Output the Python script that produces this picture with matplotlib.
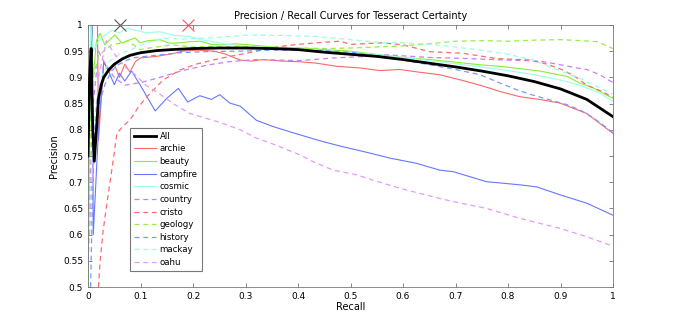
import matplotlib
matplotlib.use("Agg")
import matplotlib.pyplot as plt
import numpy as np

plt.rcParams.update({'font.size': 7, 'font.family': 'DejaVu Sans'})

# ---- data (recall, precision) ----
all_r = [0, 0.003, 0.006, 0.009, 0.012, 0.016, 0.02, 0.025, 0.03, 0.04, 0.05, 0.065, 0.08, 0.1, 0.13,
         0.16, 0.2, 0.25, 0.3, 0.35, 0.4, 0.45, 0.5, 0.55, 0.6, 0.65, 0.7, 0.75, 0.8, 0.85, 0.9, 0.95, 1.0]
all_p = [0.75, 0.9, 0.955, 0.8, 0.74, 0.8, 0.86, 0.885, 0.9, 0.915, 0.925, 0.935, 0.942, 0.947, 0.951,
         0.953, 0.955, 0.956, 0.956, 0.955, 0.953, 0.948, 0.944, 0.94, 0.934, 0.927, 0.92, 0.912, 0.903,
         0.892, 0.878, 0.858, 0.825]

archie_r = [0, 0.018, 0.02, 0.03, 0.04, 0.05, 0.06, 0.07, 0.08, 0.09, 0.1, 0.13, 0.16, 0.18, 0.21, 0.24,
            0.26, 0.29, 0.31, 0.333, 0.37, 0.4, 0.436, 0.474, 0.518, 0.556, 0.594, 0.63, 0.67, 0.71,
            0.747, 0.785, 0.823, 0.86, 0.899, 0.95, 1.0]
archie_p = [1.0, 1.0, 0.78, 0.93, 0.91, 0.925, 0.9, 0.925, 0.91, 0.93, 0.937, 0.94, 0.945, 0.95, 0.952,
            0.95, 0.945, 0.933, 0.931, 0.934, 0.931, 0.93, 0.927, 0.921, 0.918, 0.913, 0.915, 0.91,
            0.905, 0.895, 0.885, 0.873, 0.863, 0.858, 0.851, 0.831, 0.793]

beauty_r = [0, 0.005, 0.01, 0.016, 0.023, 0.032, 0.04, 0.051, 0.065, 0.08, 0.09, 0.099, 0.115, 0.137,
            0.155, 0.175, 0.195, 0.213, 0.235, 0.257, 0.28, 0.309, 0.35, 0.404, 0.45, 0.499, 0.556,
            0.6, 0.65, 0.7, 0.747, 0.785, 0.82, 0.861, 0.912, 0.937, 0.962, 1.0]
beauty_p = [0.5, 1.0, 0.9, 0.97, 0.984, 0.962, 0.97, 0.981, 0.965, 0.972, 0.975, 0.966, 0.97, 0.972,
            0.965, 0.966, 0.968, 0.969, 0.963, 0.962, 0.964, 0.962, 0.958, 0.956, 0.953, 0.95, 0.943,
            0.938, 0.934, 0.929, 0.924, 0.921, 0.917, 0.912, 0.902, 0.889, 0.88, 0.86]

campfire_r = [0.0, 0.008, 0.01, 0.02, 0.03, 0.04, 0.05, 0.06, 0.07, 0.083, 0.099, 0.128, 0.15, 0.172,
              0.19, 0.213, 0.235, 0.251, 0.27, 0.29, 0.321, 0.353, 0.385, 0.442, 0.48, 0.531, 0.575,
              0.626, 0.67, 0.696, 0.759, 0.823, 0.855, 0.899, 0.95, 1.0]
campfire_p = [1.0, 1.0, 0.6, 0.8, 0.93, 0.91, 0.886, 0.908, 0.893, 0.912, 0.886, 0.836, 0.86, 0.879,
              0.853, 0.865, 0.858, 0.867, 0.851, 0.845, 0.818, 0.806, 0.796, 0.779, 0.769, 0.757, 0.746,
              0.736, 0.723, 0.72, 0.701, 0.695, 0.691, 0.676, 0.66, 0.637]

cosmic_r = [0, 0.005, 0.01, 0.02, 0.029, 0.045, 0.06, 0.074, 0.09, 0.11, 0.137, 0.165, 0.194, 0.215,
            0.238, 0.26, 0.29, 0.328, 0.37, 0.41, 0.46, 0.5, 0.556, 0.6, 0.65, 0.7, 0.747, 0.8, 0.85,
            0.9, 0.937, 0.97, 1.0]
cosmic_p = [0.55, 1.0, 0.95, 0.97, 0.978, 0.99, 0.985, 0.994, 0.99, 0.985, 0.987, 0.98, 0.978, 0.972,
            0.968, 0.964, 0.96, 0.956, 0.955, 0.953, 0.95, 0.948, 0.943, 0.938, 0.932, 0.926, 0.92,
            0.913, 0.905, 0.895, 0.885, 0.872, 0.855]

country_r = [0, 0.01, 0.02, 0.03, 0.05, 0.07, 0.1, 0.137, 0.18, 0.23, 0.27, 0.321, 0.404, 0.467, 0.531,
             0.569, 0.65, 0.72, 0.797, 0.861, 0.9, 0.937, 0.95, 0.975, 1.0]
country_p = [0.6, 0.85, 0.95, 0.93, 0.9, 0.885, 0.89, 0.9, 0.913, 0.924, 0.93, 0.934, 0.932, 0.937, 0.94,
             0.943, 0.938, 0.936, 0.933, 0.931, 0.924, 0.917, 0.915, 0.905, 0.89]

cristo_r = [0.02, 0.023, 0.029, 0.036, 0.048, 0.055, 0.065, 0.08, 0.095, 0.112, 0.143, 0.175, 0.205,
            0.238, 0.27, 0.302, 0.335, 0.366, 0.4, 0.436, 0.48, 0.5, 0.52, 0.562, 0.6, 0.651, 0.714,
            0.778, 0.842, 0.875, 0.905, 0.93, 0.95, 0.975, 1.0]
cristo_p = [0.5, 0.55, 0.609, 0.66, 0.742, 0.793, 0.805, 0.819, 0.842, 0.863, 0.895, 0.914, 0.925,
            0.933, 0.94, 0.946, 0.953, 0.959, 0.963, 0.966, 0.969, 0.963, 0.964, 0.966, 0.962, 0.949,
            0.946, 0.936, 0.933, 0.925, 0.914, 0.9, 0.885, 0.875, 0.862]

geology_r = [0, 0.005, 0.01, 0.02, 0.03, 0.045, 0.06, 0.076, 0.099, 0.13, 0.162, 0.2, 0.226, 0.26,
             0.29, 0.33, 0.4, 0.45, 0.5, 0.55, 0.6, 0.65, 0.7, 0.75, 0.8, 0.85, 0.9, 0.94, 0.97, 1.0]
geology_p = [0.5, 0.85, 0.9, 0.943, 0.95, 0.962, 0.965, 0.97, 0.953, 0.958, 0.962, 0.958, 0.959, 0.958,
             0.959, 0.957, 0.956, 0.955, 0.956, 0.958, 0.96, 0.964, 0.969, 0.97, 0.969, 0.971, 0.972,
             0.97, 0.968, 0.955]

history_r = [0.005, 0.008, 0.01, 0.013, 0.018, 0.023, 0.032, 0.045, 0.057, 0.083, 0.11, 0.137, 0.175,
             0.22, 0.29, 0.35, 0.4, 0.45, 0.5, 0.556, 0.6, 0.651, 0.7, 0.747, 0.785, 0.82, 0.848,
             0.88, 0.912, 0.937, 0.962, 0.98, 1.0]
history_p = [0.5, 0.65, 0.72, 0.803, 0.83, 0.854, 0.886, 0.912, 0.924, 0.937, 0.94, 0.943, 0.947,
             0.949, 0.95, 0.952, 0.952, 0.951, 0.948, 0.94, 0.933, 0.924, 0.915, 0.905, 0.889, 0.875,
             0.866, 0.857, 0.848, 0.838, 0.823, 0.81, 0.794]

mackay_r = [0.003, 0.008, 0.015, 0.025, 0.04, 0.06, 0.08, 0.11, 0.143, 0.18, 0.226, 0.27, 0.309, 0.37,
            0.436, 0.5, 0.562, 0.6, 0.651, 0.7, 0.747, 0.8, 0.848, 0.88, 0.912, 0.94, 0.962, 0.98, 1.0]
mackay_p = [0.6, 0.75, 0.85, 0.9, 0.93, 0.945, 0.952, 0.965, 0.975, 0.973, 0.975, 0.978, 0.981, 0.98,
            0.978, 0.972, 0.966, 0.966, 0.963, 0.958, 0.952, 0.944, 0.933, 0.92, 0.908, 0.897, 0.886,
            0.878, 0.868]

oahu_r = [0.0, 0.01, 0.02, 0.035, 0.05, 0.07, 0.09, 0.11, 0.137, 0.162, 0.194, 0.225, 0.257, 0.29,
          0.321, 0.36, 0.404, 0.429, 0.467, 0.512, 0.562, 0.607, 0.67, 0.696, 0.759, 0.823, 0.899,
          0.95, 1.0]
oahu_p = [0.55, 0.75, 0.9, 0.97, 0.945, 0.92, 0.905, 0.885, 0.868, 0.85, 0.831, 0.822, 0.812, 0.8,
          0.784, 0.77, 0.752, 0.739, 0.723, 0.714, 0.698, 0.685, 0.669, 0.663, 0.65, 0.631, 0.612,
          0.596, 0.578]

# best-threshold markers
mark_r = [0.06, 0.19]
mark_p = [1.0, 1.0]

series = [
    ('archie', archie_r, archie_p, '#ff6666', '-'),
    ('beauty', beauty_r, beauty_p, '#88ee33', '-'),
    ('campfire', campfire_r, campfire_p, '#6677ff', '-'),
    ('cosmic', cosmic_r, cosmic_p, '#99ffe6', '-'),
    ('country', country_r, country_p, '#c77dff', '--'),
    ('cristo', cristo_r, cristo_p, '#ff6b6b', '--'),
    ('geology', geology_r, geology_p, '#99ee44', '--'),
    ('history', history_r, history_p, '#7799ff', '--'),
    ('mackay', mackay_r, mackay_p, '#99ffe6', '--'),
    ('oahu', oahu_r, oahu_p, '#e699ff', '--'),
]

fig = plt.figure(figsize=(6.77, 3.24), dpi=100)
ax = fig.add_axes([0.13, 0.114, 0.7755, 0.809])

ax.plot(all_r, all_p, color='black', lw=2, label='All', zorder=5)
for name, r, p, c, ls in series:
    if ls == '--':
        ax.plot(r, p, color=c, lw=0.9, dashes=(4, 3), label=name)
    else:
        ax.plot(r, p, color=c, lw=0.8, label=name)

ax.plot(mark_r[0], mark_p[0], 'x', color='#555555', ms=9, mew=0.8, clip_on=False)
ax.plot(mark_r[1], mark_p[1], 'x', color='#ff5555', ms=9, mew=0.8, clip_on=False)

ax.set_xlim(0, 1)
ax.set_ylim(0.5, 1)
ax.set_xticks(np.arange(0, 1.01, 0.1))
ax.set_xticklabels(['0', '0.1', '0.2', '0.3', '0.4', '0.5', '0.6', '0.7', '0.8', '0.9', '1'])
ax.set_yticks(np.arange(0.5, 1.001, 0.05))
ax.set_yticklabels(['0.5', '0.55', '0.6', '0.65', '0.7', '0.75', '0.8', '0.85', '0.9', '0.95', '1'])
ax.tick_params(direction='in', top=True, right=True, labelsize=6.5, length=3, width=0.5, color='#555555')
for s in ax.spines.values():
    s.set_linewidth(0.6)
    s.set_color('#777777')

ax.set_xlabel('Recall', fontsize=7, labelpad=1)
ax.set_ylabel('Precision', fontsize=7, labelpad=3)
ax.set_title('Precision / Recall Curves for Tesseract Certainty', fontsize=7, pad=4)

leg = ax.legend(loc='upper left', bbox_to_anchor=(0.08, 0.607), borderaxespad=0, fontsize=6.2,
                fancybox=False, framealpha=1, edgecolor='#777777', handlelength=2.6,
                labelspacing=0.42, borderpad=0.45, handletextpad=0.4)
leg.get_frame().set_linewidth(0.8)

fig.savefig('out.png', dpi=100)
